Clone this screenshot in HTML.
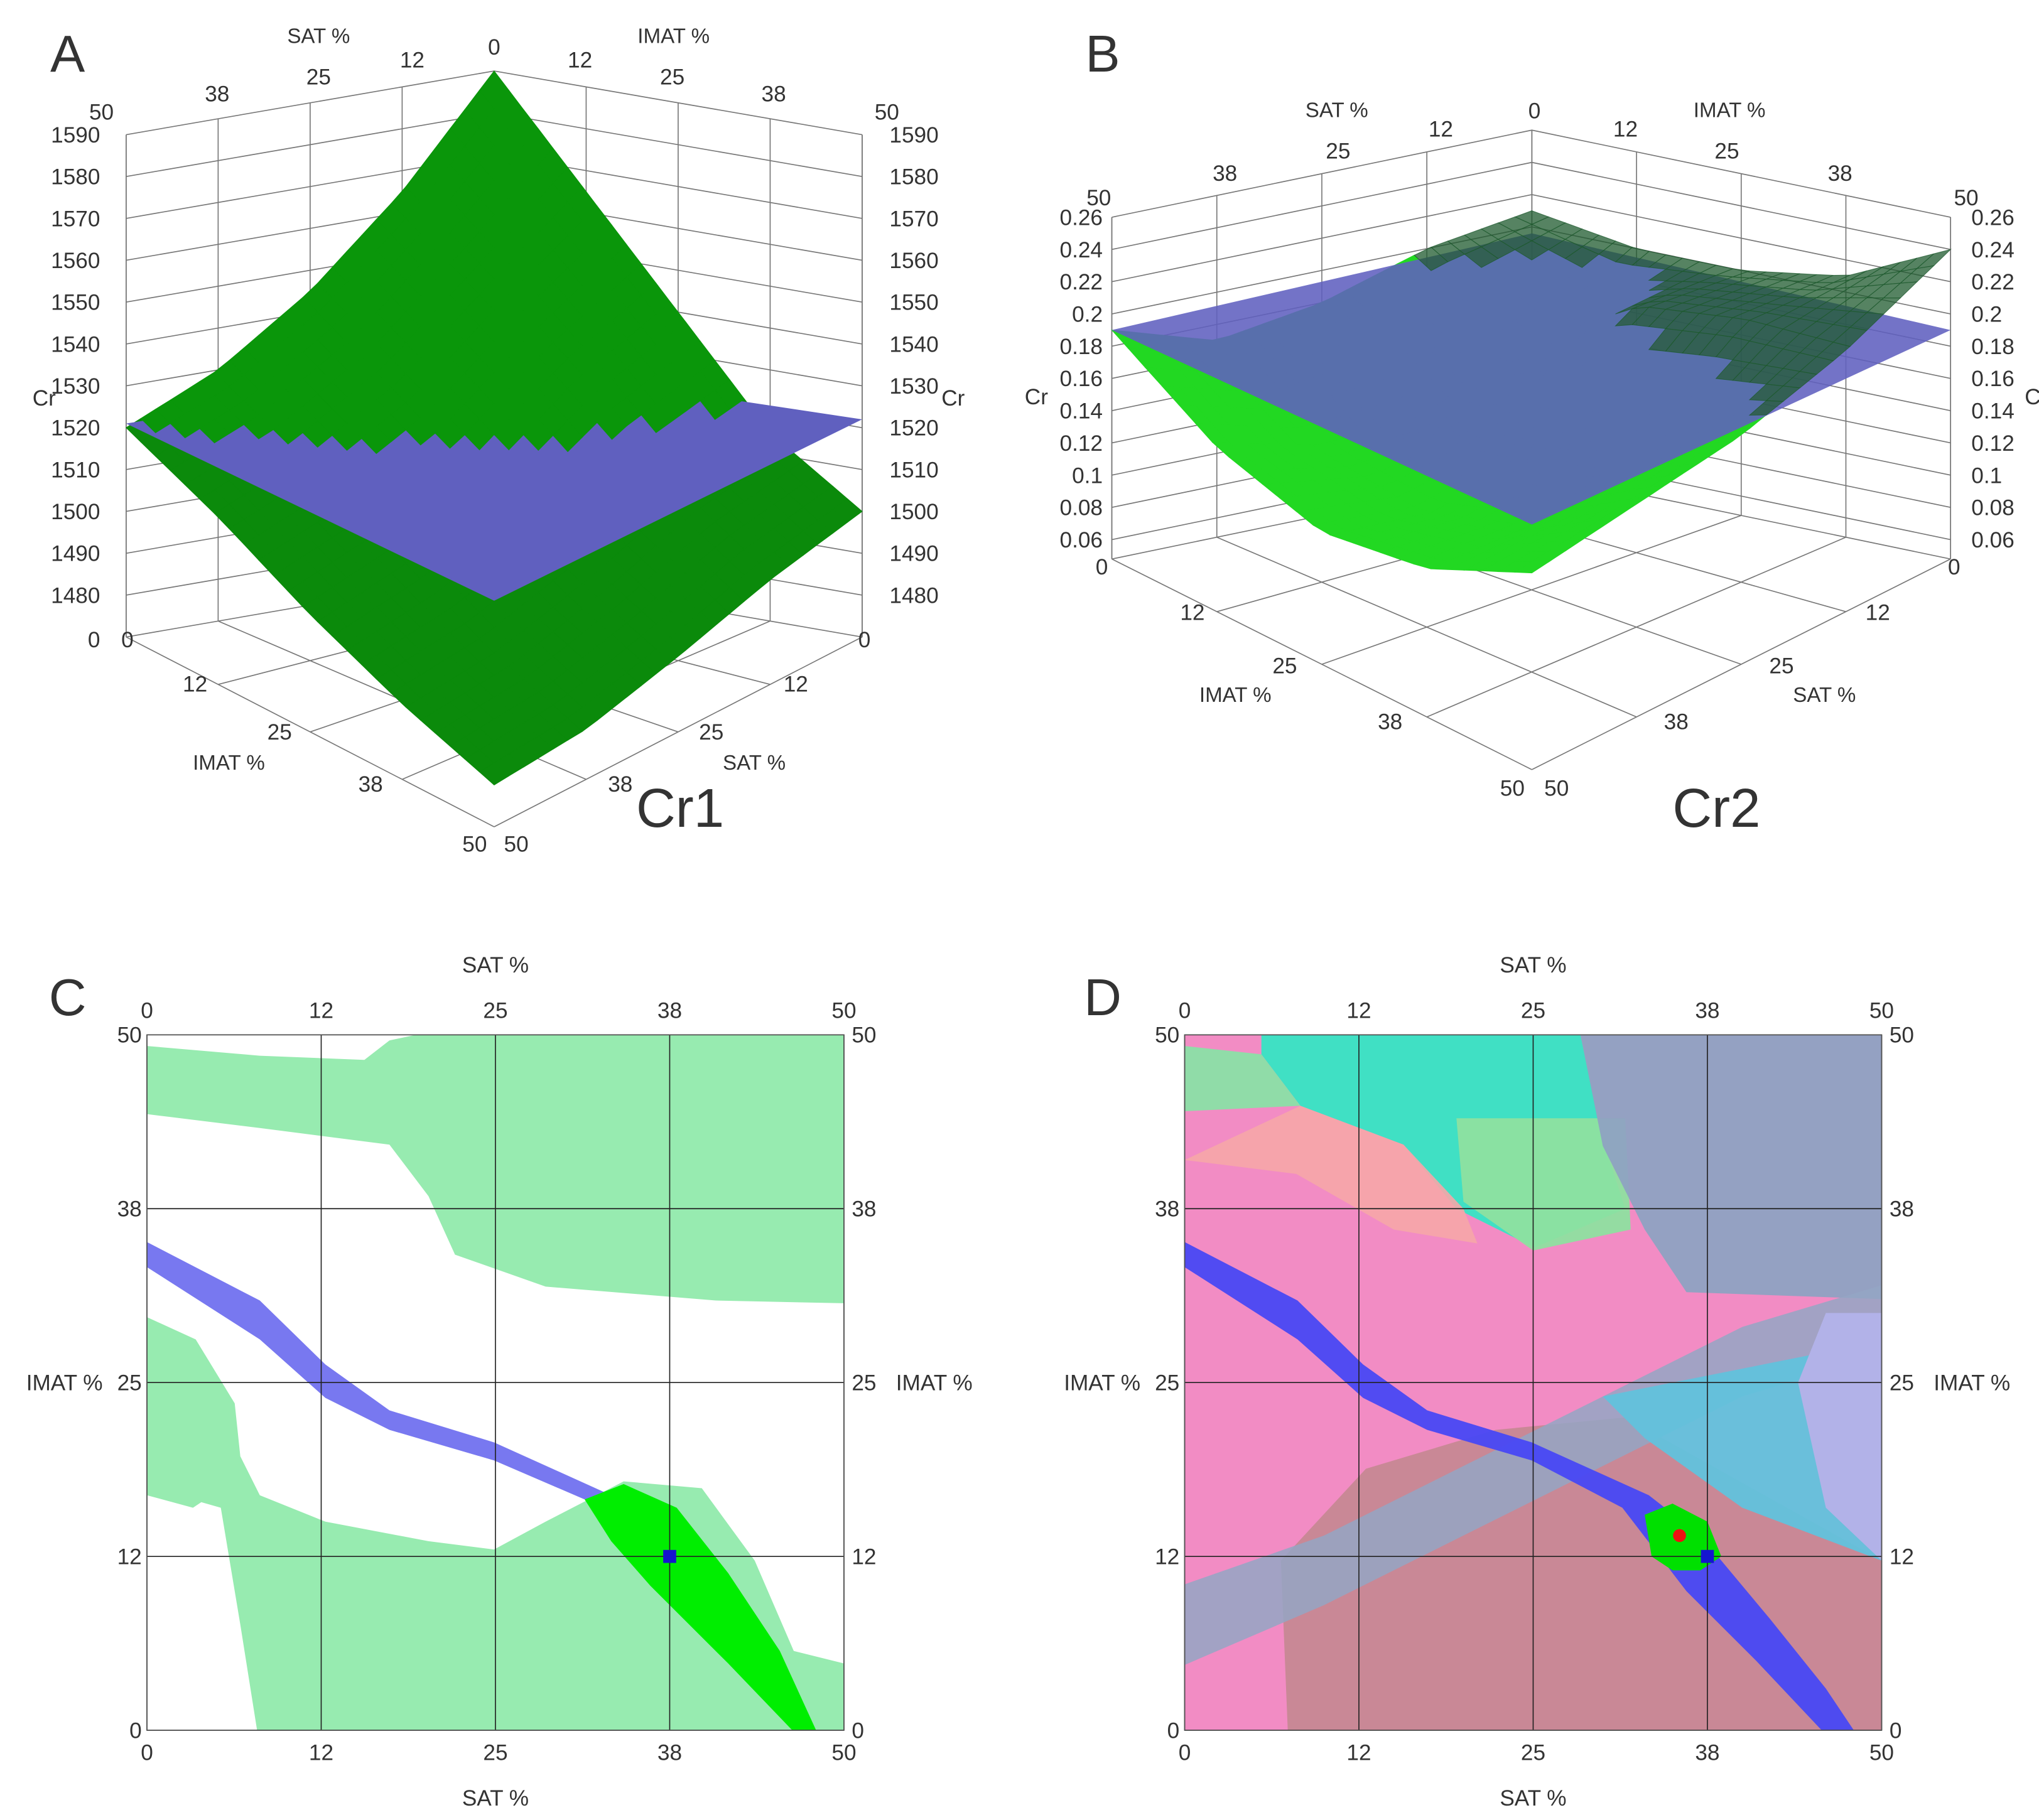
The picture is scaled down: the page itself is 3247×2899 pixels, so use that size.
<!DOCTYPE html>
<html><head><meta charset="utf-8"><style>
html,body{margin:0;padding:0;background:#fff;}
svg{display:block;}
text{font-family:"Liberation Sans",sans-serif;fill:#333;}
</style></head><body>
<svg id="fig" width="3247" height="2899" viewBox="0 0 1568 1400" preserveAspectRatio="none" xmlns="http://www.w3.org/2000/svg">
<rect width="1568" height="1400" fill="#fff"/>
<g id="gA"></g>
<g id="gB"></g>
<g id="gC"></g>
<g id="gD"></g>
<g id="labels" font-size="17">
<text x="52" y="55" font-size="40" fill="#111" text-anchor="middle">A</text>
<text x="848" y="55" font-size="40" fill="#111" text-anchor="middle">B</text>
<text x="52" y="781" font-size="40" fill="#111" text-anchor="middle">C</text>
<text x="848" y="781" font-size="40" fill="#111" text-anchor="middle">D</text>
<text x="523" y="636" font-size="42" fill="#111" text-anchor="middle">Cr1</text>
<text x="1320" y="636" font-size="42" fill="#111" text-anchor="middle">Cr2</text>
</g>
</svg>
<script>
const NS="http://www.w3.org/2000/svg";
// ---------- data ----------
const ticks=[0,12.5,25,37.5,50];
const tickLabels=['0','12','25','38','50'];
const zTicksA=[1480,1490,1500,1510,1520,1530,1540,1550,1560,1570,1580,1590];
const zTicksB=[0.06,0.08,0.1,0.12,0.14,0.16,0.18,0.2,0.22,0.24,0.26];
// Cr1 surface heights: rows SAT 0..50, cols IMAT 0..50
const cr1Green=[[1590,1565,1540,1515,1500],[1565,1548,1530,1510,1495],[1545,1530,1515,1500,1488],[1530,1518,1505,1492,1482],[1520,1510,1498,1488,1480]];
const cr1Plane=[1520,1521,1522,1524];
const cr2Green=[[0.21,0.20,0.20,0.21,0.24],[0.20,0.16,0.20,0.21,0.21],[0.18,0.13,0.14,0.16,0.19],[0.17,0.13,0.12,0.14,0.18],[0.19,0.15,0.13,0.14,0.17]];
const cr2Plane=[0.196,0.19,0.19,0.2];
// contour regions (SAT, IMAT)
const cTopBand=[[0,49.2],[8.1,48.5],[15.6,48.2],[17.4,49.6],[19.3,50],[50,50],[50,30.7],[40.8,30.9],[28.6,31.9],[22.1,34.2],[20.2,38.4],[17.4,42.1],[8.1,43.3],[0,44.3]];
const cBottom=[[0,29.7],[3.5,28.1],[6.3,23.5],[6.7,19.7],[8.1,16.9],[12.8,15],[20.2,13.6],[24.9,13],[28.6,15],[34.2,17.9],[39.8,17.4],[43.6,12.2],[46.4,5.7],[50,4.8],[50,0],[7.9,0],[6.7,7.6],[5.3,16],[3.9,16.4],[3.3,16],[0,16.9]];
const cBlue=[[0,35.1],[8.1,30.9],[12.8,26.3],[17.4,23],[24.9,20.7],[33.3,16.9],[31.4,16.6],[24.9,19.4],[17.4,21.6],[12.8,23.9],[8.1,28.1],[0,33.3]];
const cLens=[[31.4,16.6],[34.2,17.7],[38,16],[41.7,11.3],[45.4,5.7],[48,0],[46.3,0],[41.7,4.8],[36.1,10.4],[33.3,13.6]];
const cOptimum=[37.5,12.5];
const dMauve=[[7.4,0],[6.9,12.2],[13,18.8],[22.3,21.6],[31.6,22.5],[50,12.2],[50,0]];
const dCyanTop=[[5.5,50],[28.4,50],[29.8,43.1],[31.6,37.5],[25.1,34.7],[19.5,37.5],[15.7,42.1],[8.3,44.9],[5.5,48.6]];
const dGreenTL=[[0,49.2],[5.5,48.6],[8.3,44.9],[0,44.5]];
const dGreenMid=[[19.5,44],[31.6,44],[32,36],[25,34.5],[20,38]];
const dSalmon=[[8.3,44.9],[15.7,42.1],[20,37.5],[21,35],[15,36],[8,40],[0,41]];
const dGrayBlock=[[28.4,50],[50,50],[50,31],[36,31.5],[33,36],[30,42]];
const dGrayBand=[[50,32],[50,27],[40,24],[30,19],[20,14],[10,9],[0,4.7],[0,10.5],[10,14],[20,19],[30,24],[40,29]];
const dCyanRight=[[30,24],[50,28],[50,12.2],[40,16],[33,21]];
const dLavender=[[46,30],[50,30],[50,12.2],[46,16],[44,25]];
const dBlue=[[0,35.1],[8.1,30.9],[12.8,26.3],[17.4,23],[24.9,20.7],[33.3,16.9],[37,14],[42,8],[46,3],[48,0],[45.7,0],[41,5],[36,10],[31.4,16],[24.9,19.4],[17.4,21.6],[12.8,23.9],[8.1,28.1],[0,33.3]];
const dBlob=[[33,15.5],[35,16.3],[37.5,15],[38.5,12.5],[37,11.5],[35,11.5],[33.5,12.5]];
const dRed=[35.5,14];
const dSquare=[37.5,12.5];

// ---------- helpers ----------
function el(tag,attrs,parent){const e=document.createElementNS(NS,tag);for(const k in attrs)e.setAttribute(k,attrs[k]);parent.appendChild(e);return e;}
function txt(parent,x,y,s,anchor,size,name){const t=el('text',{x:x,y:y,'text-anchor':anchor||'middle','font-size':size||17},parent);t.textContent=s;

return t;}

function mkProj(P){return function(s,i,z){const a=s/50,b=i/50;
const w=[(1-a)*(1-b),a*(1-b),(1-a)*b,a*b];const c=[P.back,P.left,P.right,P.front];
let x=0,y=0;for(let k=0;k<4;k++){x+=w[k]*c[k][0];y+=w[k]*c[k][1];}
return [x,y-(z-P.z0)*P.k];};}
function pts(arr){return arr.map(p=>p[0].toFixed(1)+','+p[1].toFixed(1)).join(' ');}
function planeZ(pl,s,i){const a=s/50,b=i/50;return pl[0]*(1-a)*(1-b)+pl[1]*a*(1-b)+pl[2]*(1-a)*b+pl[3]*a*b;}
function zAt(grid,s,i){
let r=Math.min(3,Math.floor(s/12.5)),c=Math.min(3,Math.floor(i/12.5));
const u=(s-ticks[r])/12.5,v=(i-ticks[c])/12.5;
return grid[r][c]*(1-u)*(1-v)+grid[r+1][c]*u*(1-v)+grid[r][c+1]*(1-u)*v+grid[r+1][c+1]*u*v;}

function draw3D(g,P,zt,zmax,grid,plane,cols){
const pr=mkProj(P);
const st='#777';
zt.forEach(z=>{const a=pr(50,0,z),b=pr(0,0,z),c=pr(0,50,z);
const l=el('polyline',{points:pts([a,b,c]),fill:'none',stroke:st,'stroke-width':0.8},g);

});
ticks.forEach(t=>{[[pr(t,0,P.z0),pr(t,0,zmax)],[pr(0,t,P.z0),pr(0,t,zmax)],[pr(t,0,P.z0),pr(t,50,P.z0)],[pr(0,t,P.z0),pr(50,t,P.z0)]].forEach(s=>{
const l=el('line',{x1:s[0][0],y1:s[0][1],x2:s[1][0],y2:s[1][1],stroke:st,'stroke-width':0.8},g);

});});
[[50,0],[0,50]].forEach(c=>{const a=pr(c[0],c[1],P.z0),b=pr(c[0],c[1],zmax);
const l=el('line',{x1:a[0],y1:a[1],x2:b[0],y2:b[1],stroke:st,'stroke-width':0.8},g);

});
const N=25,d=50/N;const quads=[];
for(let r=0;r<N;r++)for(let c=0;c<N;c++){
const s0=r*d,s1=s0+d,i0=c*d,i1=i0+d;
const zz=[zAt(grid,s0,i0),zAt(grid,s1,i0),zAt(grid,s1,i1),zAt(grid,s0,i1)];
const avg=(zz[0]+zz[1]+zz[2]+zz[3])/4;
const pz=planeZ(plane,(s0+s1)/2,(i0+i1)/2);
quads.push({p:[pr(s0,i0,zz[0]),pr(s1,i0,zz[1]),pr(s1,i1,zz[2]),pr(s0,i1,zz[3])],above:avg>pz,d:r+c});}
quads.sort((a,b)=>a.d-b.d);
function drawQ(q){
const p=el('polygon',{points:pts(q.p),fill:q.above?cols.above:cols.below,'fill-opacity':q.above?cols.aop:1,stroke:q.above?cols.above:cols.below,'stroke-width':0.5,'stroke-opacity':q.above?cols.aop:1},g);

}
quads.filter(q=>!q.above).forEach(drawQ);
const pp=[pr(0,0,plane[0]),pr(50,0,plane[1]),pr(50,50,plane[3]),pr(0,50,plane[2])];
const bp=el('polygon',{points:pts(pp),fill:'#6060bf','fill-opacity':cols.pop},g);


quads.filter(q=>q.above).forEach(drawQ);
return pr;}

// Panel A
const PA={back:[380,441],left:[97,490],right:[663,490],front:[380,636],z0:1470,k:3.22};
const gA=document.getElementById('gA');
draw3D(gA,PA,zTicksA,1590,cr1Green,cr1Plane,{above:'#0a960a',below:'#0b8a0b',aop:1,pop:1});
zTicksA.forEach(z=>{const y=490-(z-1470)*3.22;txt(gA,77,y+6,String(z),'end',17);txt(gA,684,y+6,String(z),'start',17);});
txt(gA,77,498,'0','end',17);txt(gA,660,498,'0','start',17);
txt(gA,25,312,'Cr','start',17,'z-axis-title');txt(gA,724,312,'Cr','start',17,'z-axis-title');
[[78,92,'50'],[167,78,'38'],[245,65,'25'],[317,52,'12'],[380,42,'0']].forEach(a=>txt(gA,a[0],a[1],a[2]));
[[446,52,'12'],[517,65,'25'],[595,78,'38'],[682,92,'50']].forEach(a=>txt(gA,a[0],a[1],a[2]));
txt(gA,245,33,'SAT %','middle',16,'axis-title');txt(gA,518,33,'IMAT %','middle',16,'axis-title');
[[98,498,'0'],[150,532,'12'],[215,569,'25'],[285,609,'38'],[365,655,'50']].forEach(a=>txt(gA,a[0],a[1],a[2]));
[[612,532,'12'],[547,569,'25'],[477,609,'38'],[397,655,'50']].forEach(a=>txt(gA,a[0],a[1],a[2]));
txt(gA,176,592,'IMAT %','middle',16,'axis-title');txt(gA,580,592,'SAT %','middle',16,'axis-title');

// Panel B
const PB={back:[1178,363],left:[855,430],right:[1500,430],front:[1178,592],z0:0.048,k:1240};
const gB=document.getElementById('gB');
draw3D(gB,PB,zTicksB,0.26,cr2Green,cr2Plane,{above:'#1e5a2e',below:'#22d822',aop:0.75,pop:0.88});
zTicksB.forEach(z=>{const y=430-(z-0.048)*1240;txt(gB,848,y+6,String(z),'end',17);txt(gB,1516,y+6,String(z),'start',17);});
txt(gB,852,442,'0','end',17);txt(gB,1498,442,'0','start',17);
txt(gB,788,311,'Cr','start',17,'z-axis-title');txt(gB,1557,311,'C','start',17,'z-axis-title');
[[845,158,'50'],[942,139,'38'],[1029,122,'25'],[1108,105,'12'],[1180,91,'0']].forEach(a=>txt(gB,a[0],a[1],a[2]));
[[1250,105,'12'],[1328,122,'25'],[1415,139,'38'],[1512,158,'50']].forEach(a=>txt(gB,a[0],a[1],a[2]));
txt(gB,1028,90,'SAT %','middle',16,'axis-title');txt(gB,1330,90,'IMAT %','middle',16,'axis-title');
[[917,477,'12'],[988,518,'25'],[1069,561,'38'],[1163,612,'50']].forEach(a=>txt(gB,a[0],a[1],a[2]));
[[1444,477,'12'],[1370,518,'25'],[1289,561,'38'],[1197,612,'50']].forEach(a=>txt(gB,a[0],a[1],a[2]));
txt(gB,950,540,'IMAT %','middle',16,'axis-title');txt(gB,1403,540,'SAT %','middle',16,'axis-title');

// contour panels
function panel2D(g,ox){
const X=v=>ox+113+v/50*536, Y=v=>1331-v/50*535;
function poly(arr,fill,op,name){const p=el('polygon',{points:arr.map(a=>X(a[0]).toFixed(1)+','+Y(a[1]).toFixed(1)).join(' '),fill:fill,'fill-opacity':op},g);

return p;}
return {X,Y,poly};}
function axes2D(g,P){
ticks.forEach((t,k)=>{
const v=el('line',{x1:P.X(t),y1:P.Y(0),x2:P.X(t),y2:P.Y(50),stroke:'#222','stroke-width':0.8},g);


const h=el('line',{x1:P.X(0),y1:P.Y(t),x2:P.X(50),y2:P.Y(t),stroke:'#222','stroke-width':0.8},g);


const L=tickLabels[k];
txt(g,P.X(t),783,L);txt(g,P.X(t),1354,L);
txt(g,P.X(0)-4,P.Y(t)+6,L,'end');txt(g,P.X(50)+6,P.Y(t)+6,L,'start');});
const b=el('rect',{x:P.X(0),y:P.Y(50),width:536,height:535,fill:'none',stroke:'#555','stroke-width':0.8},g);


txt(g,P.X(25),748,'SAT %','middle',17,'x-axis-title-top');txt(g,P.X(25),1389,'SAT %','middle',17,'x-axis-title-bottom');
txt(g,P.X(0)-34,P.Y(25)+6,'IMAT %','end',17,'y-axis-title-left');txt(g,P.X(50)+40,P.Y(25)+6,'IMAT %','start',17,'y-axis-title-right');}

const gC=document.getElementById('gC');const PC=panel2D(gC,0);
PC.poly(cTopBand,'#97ebb0',1,'feasible-region-top');
PC.poly(cBottom,'#97ebb0',1,'feasible-region-bottom');
PC.poly(cBlue,'#7878f0',1,'cr1-equality-band');
PC.poly(cLens,'#00ee00',1,'optimal-region');
axes2D(gC,PC);
let sq=el('rect',{x:PC.X(cOptimum[0])-5,y:PC.Y(cOptimum[1])-5,width:10,height:10,fill:'#1515d0'},gC);



const gD=document.getElementById('gD');const PD=panel2D(gD,798);
const bg=el('rect',{x:PD.X(0),y:PD.Y(50),width:536,height:535,fill:'#f28cc4'},gD);


PD.poly(dMauve,'#c98896',1,'region-mauve');
PD.poly(dCyanTop,'#40e0c4',1,'region-cyan-top');
PD.poly(dGreenTL,'#90dca8',1,'region-green-top-left');
PD.poly(dGreenMid,'#8ee0a0',0.95,'region-green-mid');
PD.poly(dSalmon,'#f6a6a8',0.9,'region-salmon');
PD.poly(dGrayBlock,'#8ea2c2',0.95,'region-gray-block');
PD.poly(dGrayBand,'#94a6c4',0.85,'region-gray-band');
PD.poly(dCyanRight,'#62c2dc',0.95,'region-cyan-right');
PD.poly(dLavender,'#b2b2e8',1,'region-lavender');
PD.poly(dBlue,'#4848f4',0.95,'cr-equality-band');
PD.poly(dBlob,'#00e000',1,'optimal-region');
axes2D(gD,PD);
let rd=el('circle',{cx:PD.X(dRed[0]),cy:PD.Y(dRed[1]),r:5,fill:'#ee1111'},gD);


let sq2=el('rect',{x:PD.X(dSquare[0])-5,y:PD.Y(dSquare[1])-5,width:10,height:10,fill:'#1515d0'},gD);


</script>
</body></html>
